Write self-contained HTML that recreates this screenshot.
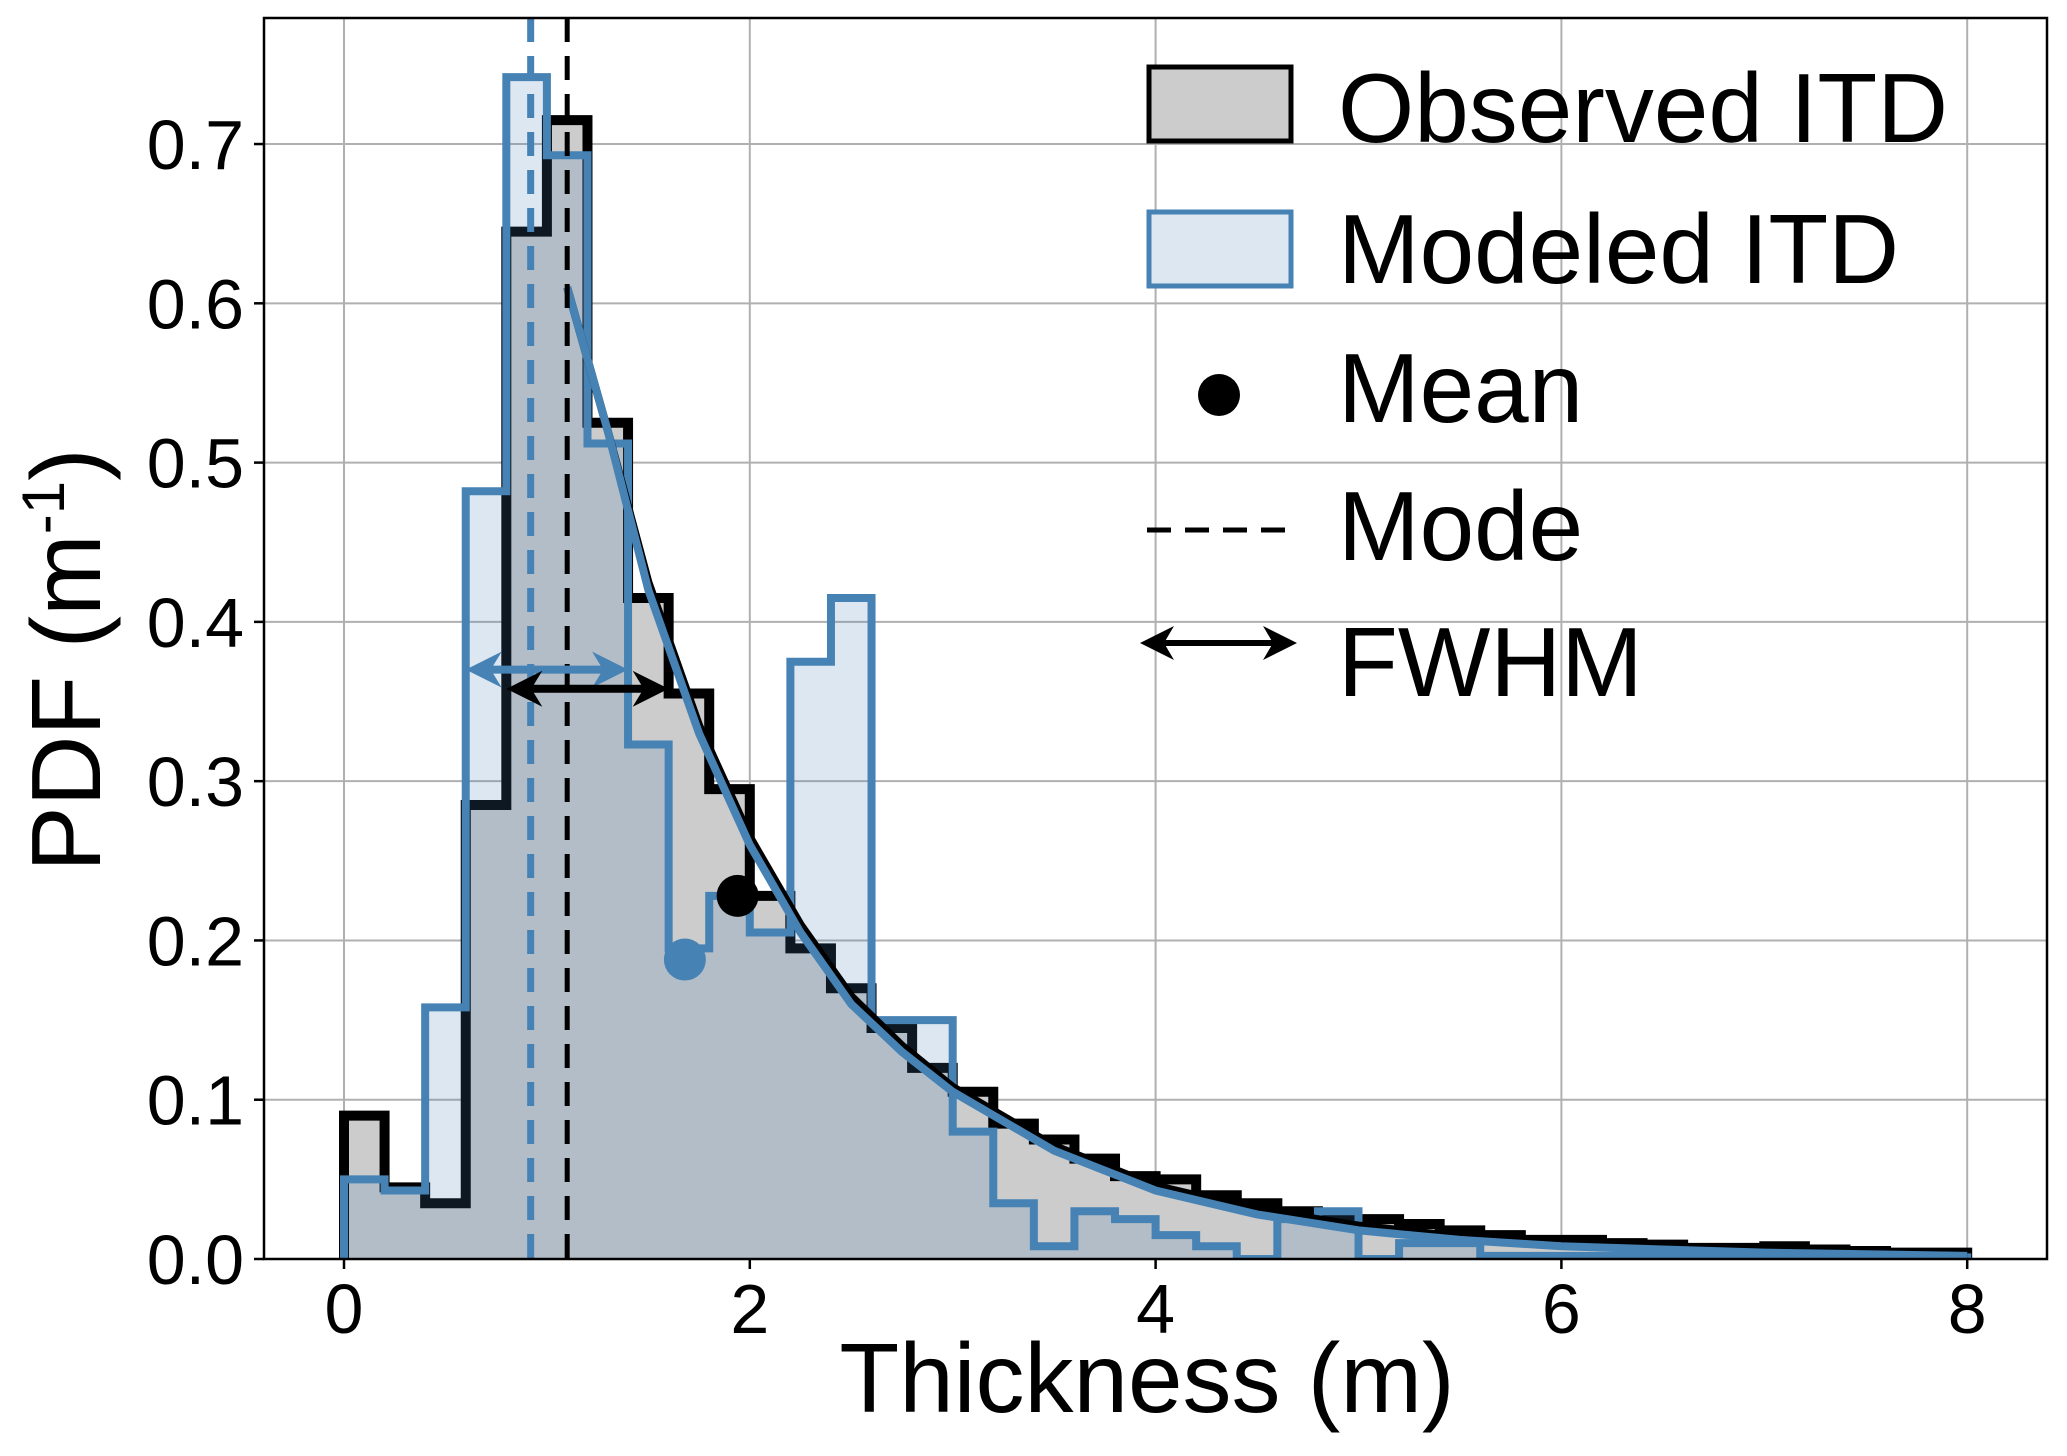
<!DOCTYPE html>
<html><head><meta charset="utf-8"><style>
html,body{margin:0;padding:0;background:#fff;}
svg{display:block;font-family:"Liberation Sans",sans-serif;}
</style></head><body>
<svg id="chart" width="2067" height="1456" viewBox="0 0 2067 1456"></svg>
<script>
const binEdgesStart = 0, binWidth = 0.2;
const observedPdf = [0.09,0.045,0.035,0.285,0.645,0.715,0.525,0.415,0.355,0.295,0.228,0.195,0.17,0.145,0.12,0.105,0.085,0.075,0.063,0.052,0.05,0.04,0.035,0.03,0.025,0.025,0.022,0.018,0.015,0.012,0.012,0.01,0.009,0.007,0.007,0.008,0.006,0.005,0.004,0.004];
const modeledPdf = [0.05,0.043,0.158,0.482,0.742,0.693,0.512,0.323,0.195,0.228,0.205,0.375,0.415,0.15,0.15,0.08,0.035,0.008,0.03,0.025,0.015,0.008,0.0,0.025,0.03,0.0,0.01,0.01,0.002,0.002,0.002,0.002,0.002,0.001,0.001,0.001,0.001,0.001,0.001,0.001];
const fitX = [1.1,1.3,1.5,1.75,2,2.25,2.5,2.75,3,3.5,4,4.5,5,5.5,6,7,8];
const obsFitY = [0.61,0.52,0.425,0.335,0.265,0.21,0.165,0.134,0.108,0.071,0.046,0.031,0.021,0.014,0.009,0.005,0.002];
const modFitY = [0.61,0.52,0.42,0.33,0.26,0.205,0.16,0.13,0.105,0.068,0.043,0.028,0.018,0.012,0.008,0.004,0.002];
const obsMean = [1.94,0.228], modMean = [1.68,0.188];
const obsMode = 1.1, modMode = 0.92;
const obsFwhm = [0.8,1.6,0.358], modFwhm = [0.6,1.4,0.37];
const xTicks = [0,2,4,6,8];
const yTicks = [0,0.1,0.2,0.3,0.4,0.5,0.6,0.7];
const yTickLabels = ["0.0","0.1","0.2","0.3","0.4","0.5","0.6","0.7"];

const NS="http://www.w3.org/2000/svg", svg=document.getElementById('chart');
const L=264,R=2047,T=18,B=1259;
const X=v=>344+v*202.9, Y=v=>1259-v*1592.8;
function mk(tag,attrs,parent){const e=document.createElementNS(NS,tag);for(const k in attrs)e.setAttribute(k,attrs[k]);(parent||svg).appendChild(e);return e;}
const defs=mk('defs',{});
defs.innerHTML='<clipPath id="clip"><rect x="264" y="18" width="1783" height="1241"/></clipPath>';

const grid=mk('g',{});


xTicks.forEach(t=>{const l=mk('line',{x1:X(t),x2:X(t),y1:T,y2:B,stroke:'#b0b0b0','stroke-width':2},grid);

});
yTicks.forEach(t=>{const l=mk('line',{x1:L,x2:R,y1:Y(t),y2:Y(t),stroke:'#b0b0b0','stroke-width':2},grid);

});

function stepPath(vals){let d='M'+X(binEdgesStart)+','+Y(0);vals.forEach((v,i)=>{const a=binEdgesStart+i*binWidth;d+=' L'+X(a)+','+Y(v)+' L'+X(a+binWidth)+','+Y(v);});d+=' L'+X(binEdgesStart+vals.length*binWidth)+','+Y(0);return d;}
const plot=mk('g',{'clip-path':'url(#clip)'});
const of=mk('path',{d:stepPath(observedPdf)+' Z',fill:'#cccccc',stroke:'none'},plot);


const ol=mk('path',{d:stepPath(observedPdf),fill:'none',stroke:'#000','stroke-width':10,'stroke-linejoin':'miter'},plot);


const mf=mk('path',{d:stepPath(modeledPdf)+' Z',fill:'rgba(70,130,180,0.19)',stroke:'none'},plot);


const ml=mk('path',{d:stepPath(modeledPdf),fill:'none',stroke:'#4682b4','stroke-width':8},plot);



function curve(ys){return fitX.map((x,i)=>(i?'L':'M')+X(x)+','+Y(ys[i])).join(' ');}
const c1=mk('path',{d:curve(obsFitY),fill:'none',stroke:'#000','stroke-width':8},plot);


const c2=mk('path',{d:curve(modFitY),fill:'none',stroke:'#4682b4','stroke-width':8},plot);



const m1=mk('line',{x1:X(modMode),x2:X(modMode),y1:T,y2:B,stroke:'#4682b4','stroke-width':7,'stroke-dasharray':'24 14'},plot);


const m2=mk('line',{x1:X(obsMode),x2:X(obsMode),y1:T,y2:B,stroke:'#000','stroke-width':5,'stroke-dasharray':'24 14'},plot);



function arrow(x1,x2,y,col,w,name){const g=mk('g',{},plot);


mk('line',{x1:x1+10,x2:x2-10,y1:y,y2:y,stroke:col,'stroke-width':w},g);
mk('path',{d:`M${x1},${y} l36,-18 l-11,18 l11,18 Z`,fill:col},g);
mk('path',{d:`M${x2},${y} l-36,-18 l11,18 l-11,18 Z`,fill:col},g);}
arrow(X(modFwhm[0]),X(modFwhm[1]),Y(modFwhm[2]),'#4682b4',8,'modeled-fwhm-arrow');
arrow(X(obsFwhm[0]),X(obsFwhm[1]),Y(obsFwhm[2]),'#000',8,'observed-fwhm-arrow');

const d1=mk('circle',{cx:X(obsMean[0]),cy:Y(obsMean[1]),r:21,fill:'#000'},plot);


const d2=mk('circle',{cx:X(modMean[0]),cy:Y(modMean[1]),r:21,fill:'#4682b4'},plot);



const fr=mk('rect',{x:L,y:T,width:R-L,height:B-T,fill:'none',stroke:'#000','stroke-width':2.5});



xTicks.forEach(t=>{mk('line',{x1:X(t),x2:X(t),y1:B,y2:B+10,stroke:'#000','stroke-width':2.5});
const tx=mk('text',{x:X(t),y:1333,'font-size':70,'text-anchor':'middle',fill:'#000'});tx.textContent=t;

});
yTicks.forEach((t,i)=>{mk('line',{x1:L-10,x2:L,y1:Y(t),y2:Y(t),stroke:'#000','stroke-width':2.5});
const tx=mk('text',{x:244,y:Y(t)+25,'font-size':70,'text-anchor':'end',fill:'#000'});tx.textContent=yTickLabels[i];

});

const xl=mk('text',{x:1147,y:1412,'font-size':98,'text-anchor':'middle',fill:'#000'});xl.textContent='Thickness (m)';


const yl=mk('text',{x:0,y:0,'font-size':98,'text-anchor':'middle',fill:'#000',transform:'translate(100,660) rotate(-90)'});
yl.innerHTML='PDF (m<tspan font-size="60" dy="-36">-1</tspan><tspan dy="36">)</tspan>';



const lg=mk('g',{});


mk('rect',{x:1149,y:67,width:142,height:74,fill:'#cccccc',stroke:'#000','stroke-width':5},lg);
mk('rect',{x:1149,y:212,width:142,height:74,fill:'#dce7f1',stroke:'#4682b4','stroke-width':5},lg);
mk('circle',{cx:1219,cy:395,r:21,fill:'#000'},lg);
mk('line',{x1:1147,x2:1292,y1:530,y2:530,stroke:'#000','stroke-width':5,'stroke-dasharray':'24 14'},lg);
mk('line',{x1:1150,x2:1288,y1:643,y2:643,stroke:'#000','stroke-width':6},lg);
mk('path',{d:'M1140,643 l34,-17 l-10,17 l10,17 Z',fill:'#000'},lg);
mk('path',{d:'M1297,643 l-34,-17 l10,17 l-10,17 Z',fill:'#000'},lg);
[['Observed ITD',142,'legend-entry-observed'],['Modeled ITD',283,'legend-entry-modeled'],['Mean',422,'legend-entry-mean'],['Mode',560,'legend-entry-mode'],['FWHM',696,'legend-entry-fwhm']].forEach(r=>{
const t=mk('text',{x:1338,y:r[1],'font-size':98,fill:'#000'},lg);t.textContent=r[0];

});
</script>
</body></html>
